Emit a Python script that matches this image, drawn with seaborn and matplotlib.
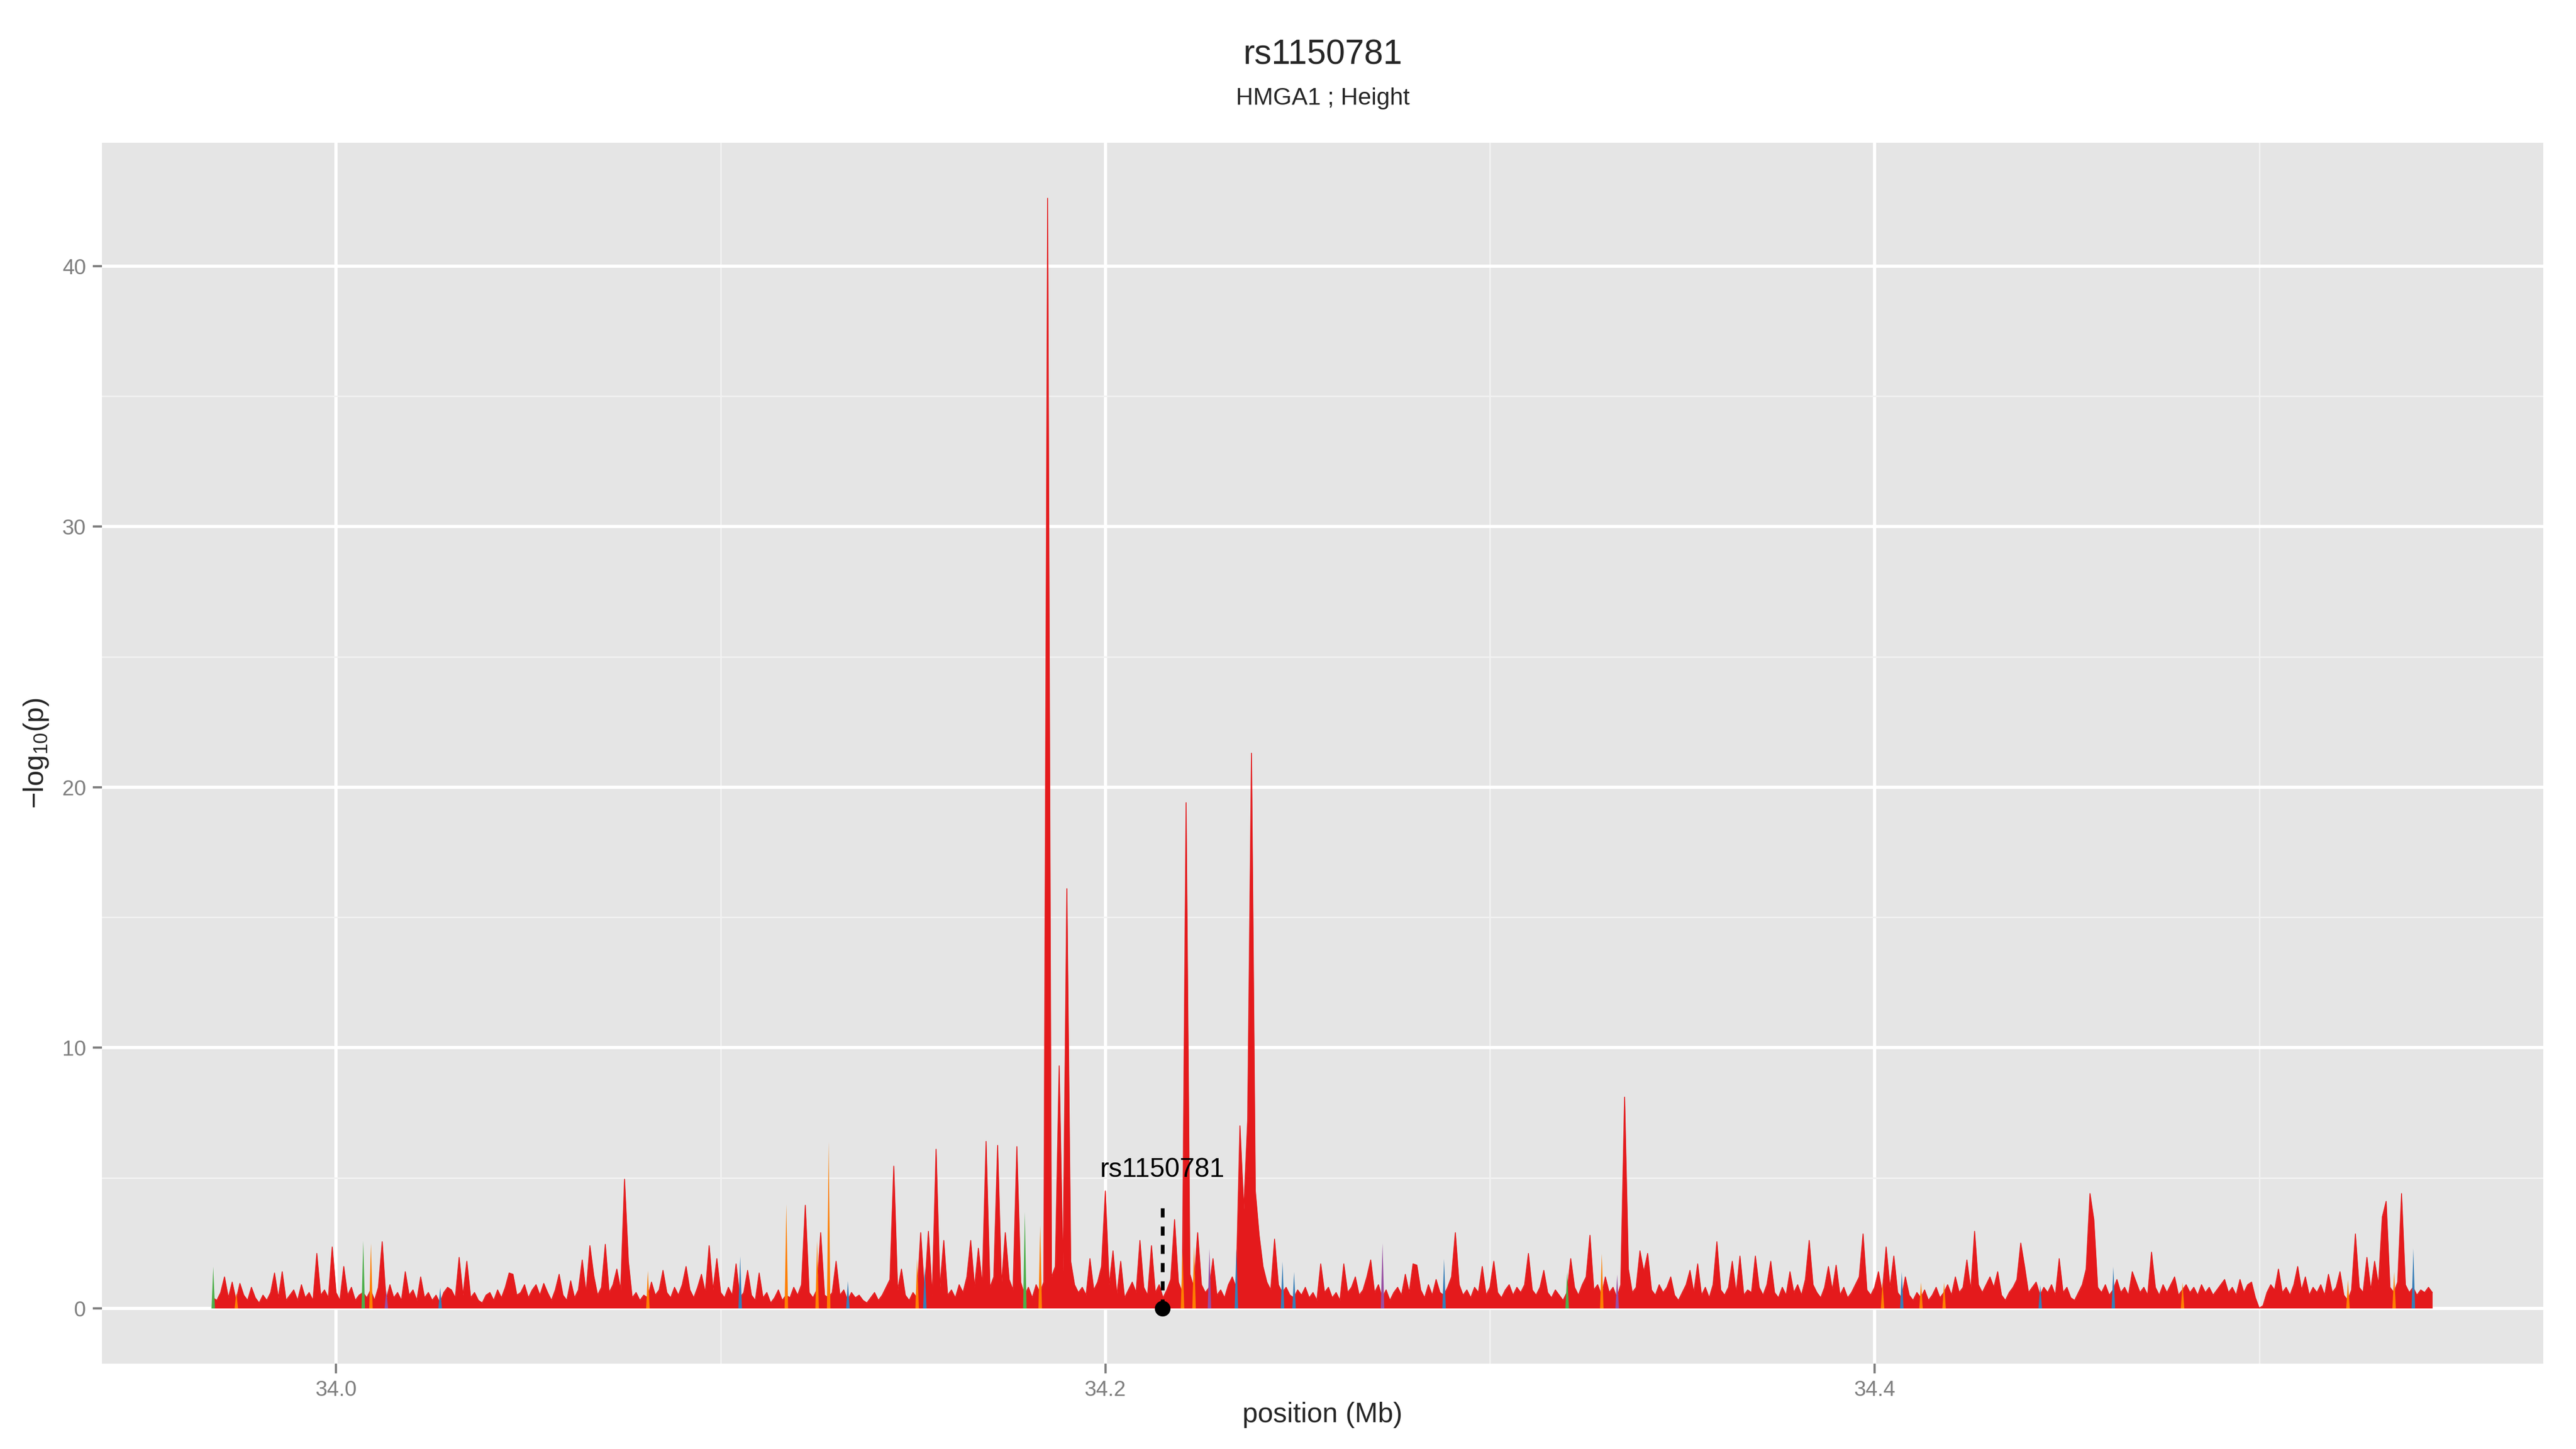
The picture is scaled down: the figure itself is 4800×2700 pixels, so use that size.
import numpy as np
import matplotlib
matplotlib.use("Agg")
import matplotlib.pyplot as plt
import seaborn as sns

# ---- labels ----
title = "rs1150781"
subtitle = "HMGA1 ; Height"
x_label = "position (Mb)"
y_label = "\u2212log$_{10}$(p)"

# lead SNP
lead_snp = "rs1150781"
lead_pos = 34.2148
lead_logp = 0.0

# SNP grid: first position (Mb) and spacing (kb)
start_mb = 33.968
step_kb = 1.0

# -log10(p) of the red (bulk) SNPs, one per grid step
red_logp_1 = [
    0.4, 0.3, 0.6, 1.2, 0.4, 1.0, 0.3, 0.95, 0.5, 0.3,
    0.8, 0.4, 0.2, 0.5, 0.3, 0.6, 1.35, 0.4, 1.4, 0.3,
    0.5, 0.7, 0.3, 0.9, 0.4, 0.6, 0.3, 2.1, 0.5, 0.7,
    0.4, 2.35, 0.6, 0.3, 1.6, 0.5, 0.8, 0.3, 0.5, 0.6,
    0.4, 0.7, 0.3, 0.8, 2.55, 0.3, 0.9, 0.4, 0.6, 0.3,
    1.4, 0.5, 0.7, 0.3, 1.2, 0.4, 0.6, 0.3, 0.5, 0.2,
    0.6, 0.8, 0.7, 0.4, 1.95, 0.5, 1.8, 0.4, 0.6, 0.3,
    0.2, 0.5, 0.6, 0.3, 0.7, 0.4, 0.8, 1.35, 1.3, 0.5,
    0.6, 0.9, 0.4, 0.7, 0.9, 0.5, 0.95, 0.6, 0.3, 0.7,
    1.3, 0.5, 0.3, 1.05, 0.4, 0.7, 1.85, 0.6, 2.4, 1.25,
]
red_logp_2 = [
    0.5, 0.8, 2.45, 0.6, 0.9, 1.5, 0.7, 4.95, 1.8, 0.4,
    0.6, 0.3, 0.5, 0.4, 1.0, 0.5, 0.7, 1.45, 0.6, 0.4,
    0.8, 0.5, 0.9, 1.6, 0.7, 0.4, 0.8, 1.3, 0.6, 2.4,
    0.7, 1.9, 0.6, 0.4, 0.8, 0.5, 1.7, 0.4, 0.6, 1.45,
    0.5, 0.3, 1.35, 0.4, 0.6, 0.2, 0.4, 0.7, 0.3, 0.5,
    0.4, 0.8, 0.5, 0.9, 3.95, 0.6, 0.4, 0.7, 2.9, 0.5,
    0.4, 0.6, 1.8, 0.5, 0.7, 0.3, 0.6, 0.4, 0.5, 0.3,
    0.2, 0.4, 0.6, 0.3, 0.5, 0.8, 1.1, 5.45, 0.7, 1.5,
    0.5, 0.3, 0.6, 0.4, 2.9, 0.6, 2.95, 0.5, 6.1, 0.8,
    2.6, 0.5, 0.7, 0.4, 0.9, 0.6, 1.2, 2.6, 0.8, 2.3,
]
red_logp_3 = [
    0.9, 6.4, 0.8, 1.2, 6.25, 0.9, 2.9, 1.1, 0.7, 6.2,
    1.0, 0.5, 0.8, 0.4, 0.9, 0.6, 1.0, 42.6, 1.2, 1.6,
    9.3, 1.4, 16.1, 1.8, 0.9, 0.6, 0.8, 0.5, 1.9, 0.7,
    1.0, 1.6, 4.5, 0.9, 2.2, 0.5, 1.8, 0.4, 0.7, 1.0,
    0.6, 2.6, 0.8, 0.5, 2.4, 0.6, 0.9, 0.4, 0.7, 1.1,
    3.4, 1.0, 0.6, 19.4, 1.3, 0.8, 2.9, 0.9, 0.6, 0.8,
    1.9, 0.5, 0.7, 0.4, 0.9, 1.2, 0.8, 7.0, 3.8, 7.2,
    21.3, 4.5, 2.8, 1.6, 1.0, 0.7, 2.65, 0.9, 0.6, 0.8,
    0.5, 0.4, 0.7, 0.5, 0.8, 0.4, 0.6, 0.3, 1.7, 0.6,
    0.8, 0.4, 0.6, 0.3, 1.7, 0.6, 0.8, 1.2, 0.5, 0.7,
]
red_logp_4 = [
    1.2, 1.85, 0.6, 0.9, 0.4, 0.7, 0.3, 0.6, 0.8, 0.5,
    1.3, 0.6, 1.7, 1.65, 0.7, 0.4, 0.9, 0.5, 1.1, 0.6,
    0.5, 0.8, 1.2, 2.9, 0.9, 0.5, 0.7, 0.4, 0.8, 0.6,
    1.6, 0.5, 0.8, 1.8, 0.6, 0.4, 0.7, 0.9, 0.5, 0.8,
    0.6, 0.9, 2.1, 0.7, 0.5, 0.8, 1.45, 0.6, 0.4, 0.7,
    0.5, 0.3, 0.6, 1.9, 0.8, 0.5, 0.9, 1.2, 2.8, 0.7,
    0.9, 0.5, 1.2, 0.6, 0.8, 0.4, 0.9, 8.1, 1.5, 0.6,
    0.8, 2.2, 1.4, 2.1, 0.7, 0.5, 0.9, 0.6, 0.8, 1.2,
    0.5, 0.3, 0.6, 0.9, 1.45, 0.6, 1.7, 0.5, 0.8, 0.4,
    0.9, 2.55, 0.7, 0.5, 0.8, 1.8, 0.6, 2.0, 0.5, 0.7,
]
red_logp_5 = [
    0.6, 2.0, 0.8, 0.5, 0.9, 1.8, 0.6, 0.4, 0.8, 0.5,
    1.4, 0.6, 0.9, 0.5, 1.1, 2.6, 0.9, 0.6, 0.4, 0.8,
    1.6, 0.7, 1.65, 0.5, 0.8, 0.4, 0.6, 0.9, 1.2, 2.85,
    0.7, 0.5, 0.8, 1.4, 0.6, 2.35, 0.8, 2.0, 0.6, 0.4,
    1.2, 0.5, 0.3, 0.6, 0.4, 0.7, 0.3, 0.5, 0.8, 0.4,
    0.6, 0.9, 0.5, 1.2, 0.6, 0.8, 1.85, 0.7, 2.95, 0.9,
    0.6, 0.9, 1.2, 0.8, 1.4, 0.5, 0.3, 0.6, 0.8, 1.1,
    2.5, 1.6, 0.6, 0.8, 1.0, 0.5, 0.8, 0.6, 0.9, 0.5,
    1.9, 0.6, 0.8, 0.4, 0.3, 0.6, 0.9, 1.5, 4.4, 3.4,
    0.8, 0.6, 0.9, 0.5, 0.7, 1.1, 0.6, 0.8, 0.5, 1.4,
]
red_logp_6 = [
    1.0, 0.6, 0.8, 0.5, 2.15, 0.8, 0.5, 0.9, 0.6, 0.9,
    1.2, 0.5, 0.7, 0.9, 0.6, 0.8, 0.5, 0.9, 0.6, 0.8,
    0.5, 0.7, 0.9, 1.1, 0.6, 0.8, 0.5, 1.1, 0.6, 0.9,
    1.0, 0.4, 0.0, 0.1, 0.6, 0.9, 0.7, 1.5, 0.6, 0.8,
    0.5, 0.9, 1.6, 0.7, 1.2, 0.5, 0.8, 0.6, 0.9, 0.5,
    1.3, 0.6, 0.8, 1.4, 0.5, 0.3, 0.7, 2.85, 0.8, 0.6,
    1.95, 0.7, 1.8, 0.9, 3.5, 4.1, 0.8, 0.6, 1.0, 4.4,
    0.9, 0.6, 0.8, 0.5, 0.7, 0.6, 0.8, 0.6,
]

# SNPs of the other LD groups: position (Mb) and -log10(p)
orange_pos = [33.974, 34.009, 34.081, 34.117, 34.125, 34.128, 34.151, 34.183, 34.220,
              34.223, 34.329, 34.402, 34.412, 34.418, 34.480, 34.523, 34.535]
orange_logp = [0.6, 2.5, 1.45, 4.0, 2.6, 6.4, 1.9, 3.2, 2.2,
               2.4, 2.1, 1.0, 1.0, 1.0, 1.0, 1.1, 1.4]
blue_pos = [34.027, 34.105, 34.133, 34.153, 34.234, 34.246, 34.249, 34.288,
            34.407, 34.443, 34.462, 34.540]
blue_logp = [0.8, 2.0, 1.05, 1.6, 2.3, 1.8, 1.4, 1.9, 1.4, 0.9, 1.6, 2.3]
green_pos = [33.968, 34.007, 34.179, 34.320]
green_logp = [1.6, 2.6, 3.7, 1.4]
purple_pos = [34.013, 34.227, 34.272, 34.333]
purple_logp = [0.7, 2.3, 2.5, 1.3]

# ---- build series ----
red_logp = np.array(red_logp_1 + red_logp_2 + red_logp_3 + red_logp_4 + red_logp_5 + red_logp_6)
n = len(red_logp)
positions = start_mb + np.arange(n) * step_kb / 1000.0

pal = sns.color_palette("Set1")
groups = [
    (orange_pos, orange_logp, pal[4]),
    (purple_pos, purple_logp, pal[3]),
    (blue_pos, blue_logp, pal[1]),
    (green_pos, green_logp, pal[2]),
]

# ---- style ----
sns.set_theme(style="darkgrid", rc={
    "axes.facecolor": "#E5E5E5",
    "grid.color": "white",
})
plt.rcParams["font.family"] = ["Liberation Sans", "DejaVu Sans"]
plt.rcParams["mathtext.default"] = "regular"

fig = plt.figure(figsize=(16, 9), dpi=300)
left, right, bottom, top = 0.0396, 0.9873, 0.0589, 0.9015
ax = fig.add_axes([left, bottom, right - left, top - bottom])

# red area
ax.fill_between(positions, 0, red_logp, color=pal[0], lw=0, zorder=2)
sns.lineplot(x=positions, y=red_logp, ax=ax, color=pal[0], lw=0.4,
             estimator=None, zorder=3)

# other LD groups: thin spikes on top
half_w = 0.00045
for pos_list, vals, col in groups:
    for p, v in zip(pos_list, vals):
        ax.fill_between([p - half_w, p, p + half_w], 0, [0, v, 0],
                        color=col, lw=0, zorder=4)

# lead SNP marker
ax.plot([lead_pos, lead_pos], [lead_logp, 4.2], color="black", lw=1.7,
        ls=(0, (2.4, 2.4)), zorder=6)
ax.plot([lead_pos], [lead_logp], "o", color="black", ms=6, zorder=7)
ax.text(lead_pos, 5.3, lead_snp, ha="center", va="center", fontsize=12,
        color="black", zorder=7)

# axes limits with ggplot-like 5% expansion
xr = positions[-1] - positions[0]
ax.set_xlim(positions[0] - 0.05 * xr, positions[-1] + 0.05 * xr)
yr = red_logp.max()
ax.set_ylim(-0.05 * yr, yr * 1.05)

ax.set_xticks([34.0, 34.2, 34.4])
ax.set_xticklabels(["34.0", "34.2", "34.4"])
ax.set_xticks([34.1, 34.3, 34.5], minor=True)
ax.set_yticks([0, 10, 20, 30, 40])
ax.set_yticks([5, 15, 25, 35], minor=True)

ax.grid(which="major", color="white", lw=1.45)
ax.grid(which="minor", color="#F2F2F2", lw=0.65)
ax.set_axisbelow(True)
for s in ax.spines.values():
    s.set_visible(False)

ax.tick_params(which="major", bottom=True, left=True, length=4.2, width=1.0,
               color="#7F7F7F", labelcolor="#7F7F7F", labelsize=9.6, pad=3)
ax.tick_params(which="minor", length=0)
ax.set_xlabel("")
ax.set_ylabel("")

cx = (left + right) / 2
fig.text(cx, 0.962, title, ha="center", va="center", fontsize=15.3)
fig.text(cx, 0.932, subtitle, ha="center", va="center", fontsize=10.7)
fig.text(cx, 0.0235, x_label, ha="center", va="center", fontsize=12.4)
fig.text(0.014, (bottom + top) / 2, y_label, ha="center", va="center",
         rotation=90, fontsize=12.6)

fig.savefig("out.png", dpi=300)
